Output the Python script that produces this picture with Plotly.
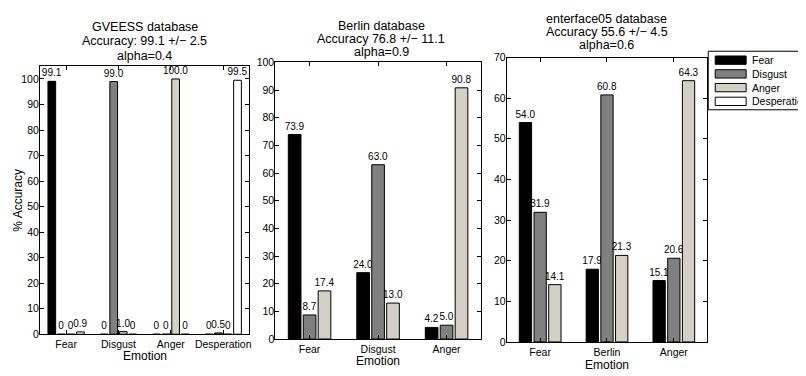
import plotly.graph_objects as go

# page body has an 8px margin: the figure is drawn at (8, 8) in the window
OFF = 8
W, H = 806 - OFF, 376 - OFF
FONT = "Liberation Sans, Arial, Helvetica, sans-serif"

# ---------------- data ----------------
series_names = ["Fear", "Disgust", "Anger", "Desperation"]
series_colors = ["#000000", "#808080", "#d4d0c8", "#ffffff"]

# Panel 1: GVEESS database
gveess_categories = ["Fear", "Disgust", "Anger", "Desperation"]
gveess_fear = [99.1, 0, 0, 0]
gveess_disgust = [0, 99.0, 0, 0.5]
gveess_anger = [0, 1.0, 100.0, 0]
gveess_desperation = [0.9, 0, 0, 99.5]
gveess_title = ["GVEESS database", "Accuracy: 99.1 +/\u2212 2.5", "alpha=0.4"]
gveess_yticks = [0, 10, 20, 30, 40, 50, 60, 70, 80, 90, 100]

# Panel 2: Berlin database
berlin_categories = ["Fear", "Disgust", "Anger"]
berlin_fear = [73.9, 24.0, 4.2]
berlin_disgust = [8.7, 63.0, 5.0]
berlin_anger = [17.4, 13.0, 90.8]
berlin_title = ["Berlin database", "Accuracy 76.8 +/\u2212 11.1", "alpha=0.9"]
berlin_yticks = [0, 10, 20, 30, 40, 50, 60, 70, 80, 90, 100]

# Panel 3: enterface05 database
enter_categories = ["Fear", "Berlin", "Anger"]
enter_fear = [54.0, 17.9, 15.1]
enter_disgust = [31.9, 60.8, 20.6]
enter_anger = [14.1, 21.3, 64.3]
enter_title = ["enterface05 database", "Accuracy 55.6 +/\u2212 4.5", "alpha=0.6"]
enter_yticks = [0, 10, 20, 30, 40, 50, 60, 70]

x_title = "Emotion"
y_title = "% Accuracy"


def px(x):
    return (x - OFF) / W


def py(y):
    return 1 - (y - OFF) / H


def fmt(v):
    return "0" if v == 0 else f"{v:.1f}"


# panel geometry in window pixels: (left, right, top, bottom)
panels = [
    dict(cats=gveess_categories,
         series=[gveess_fear, gveess_disgust, gveess_anger, gveess_desperation],
         title=gveess_title, yticks=gveess_yticks, yrange=[0, 105],
         box=(40, 250, 62, 339), slot=0.182, bw=0.147,
         title_x=145, title_y=[21, 36, 51], xt_y=362),
    dict(cats=berlin_categories,
         series=[berlin_fear, berlin_disgust, berlin_anger],
         title=berlin_title, yticks=berlin_yticks, yrange=[0, 100],
         box=(276, 482, 58, 344), slot=0.218, bw=0.185,
         title_x=382, title_y=[20.5, 33.8, 47], xt_y=367),
    dict(cats=enter_categories,
         series=[enter_fear, enter_disgust, enter_anger],
         title=enter_title, yticks=enter_yticks, yrange=[0, 70],
         box=(508, 709, 53, 347), slot=0.22, bw=0.184,
         title_x=608.5, title_y=[13.5, 27, 40.5], xt_y=370.5),
]

fig = go.Figure()
annotations = []
shapes = []

for k, p in enumerate(panels):
    sfx = "" if k == 0 else str(k + 1)
    n = len(p["series"])
    for i, vals in enumerate(p["series"]):
        off = (i - n / 2) * p["slot"] + (p["slot"] - p["bw"]) / 2
        fig.add_trace(go.Bar(
            x=p["cats"], y=vals,
            name=series_names[i],
            width=p["bw"], offset=off,
            marker=dict(color=series_colors[i], line=dict(color="#000000", width=1)),
            text=[fmt(v) for v in vals],
            textposition="outside",
            constraintext="none",
            cliponaxis=False,
            textfont=dict(family=FONT, size=10, color="#000000"),
            xaxis="x" + sfx, yaxis="y" + sfx,
            showlegend=False,
            hoverinfo="x+y+name",
        ))
    l, r, t, b = p["box"]
    axis_common = dict(showline=True, linecolor="#000000", linewidth=1, mirror="ticks",
                       ticks="inside", ticklen=4, tickcolor="#000000", showgrid=False,
                       zeroline=False, tickfont=dict(family=FONT, size=10.5, color="#000000"))
    fig.update_layout(**{
        "xaxis" + sfx: dict(domain=[px(l), px(r)], anchor="y" + sfx, type="category",
                            range=[-0.5, len(p["cats"]) - 0.5], **axis_common),
        "yaxis" + sfx: dict(domain=[py(b), py(t)], anchor="x" + sfx, range=p["yrange"],
                            tickvals=p["yticks"], ticklabelstandoff=-2, **axis_common),
    })
    cx = (l + r) / 2
    for line, yy in zip(p["title"], p["title_y"]):
        annotations.append(dict(text=line, x=px(p["title_x"]), y=py(yy), xref="paper",
                                yref="paper", xanchor="center", yanchor="middle",
                                showarrow=False,
                                font=dict(family=FONT, size=12.5, color="#000000")))
    annotations.append(dict(text=x_title, x=px(cx), y=py(p["xt_y"]), xref="paper", yref="paper",
                            xanchor="center", yanchor="middle", showarrow=False,
                            font=dict(family=FONT, size=12, color="#000000")))

# y axis title on first panel
annotations.append(dict(text=y_title, x=px(18), y=py(200), xref="paper", yref="paper",
                        xanchor="center", yanchor="middle", textangle=-90, showarrow=False,
                        font=dict(family=FONT, size=12, color="#000000")))

# legend (drawn box with swatches)
shapes.append(dict(type="rect", xref="paper", yref="paper", x0=px(710), x1=px(812),
                   y0=py(107), y1=py(46.5), line=dict(color="#000000", width=1),
                   fillcolor="#ffffff", layer="above"))
leg_y = [55.7, 69.9, 84.1, 98.3]
for name, col, yy in zip(series_names, series_colors, leg_y):
    shapes.append(dict(type="rect", xref="paper", yref="paper", x0=px(717), x1=px(748),
                       y0=py(yy + 4.3), y1=py(yy - 4.3), line=dict(color="#000000", width=1),
                       fillcolor=col, layer="above"))
    annotations.append(dict(text=name, x=px(751.5), y=py(yy), xref="paper", yref="paper",
                            xanchor="left", yanchor="middle", showarrow=False,
                            font=dict(family=FONT, size=10.5, color="#000000")))

fig.update_layout(
    width=W, height=H,
    margin=dict(l=0, r=0, t=0, b=0),
    paper_bgcolor="#ffffff", plot_bgcolor="#ffffff",
    barmode="group",
    showlegend=False,
    annotations=annotations,
    shapes=shapes,
    font=dict(family=FONT, color="#000000"),
)

fig.write_html("out.html")
